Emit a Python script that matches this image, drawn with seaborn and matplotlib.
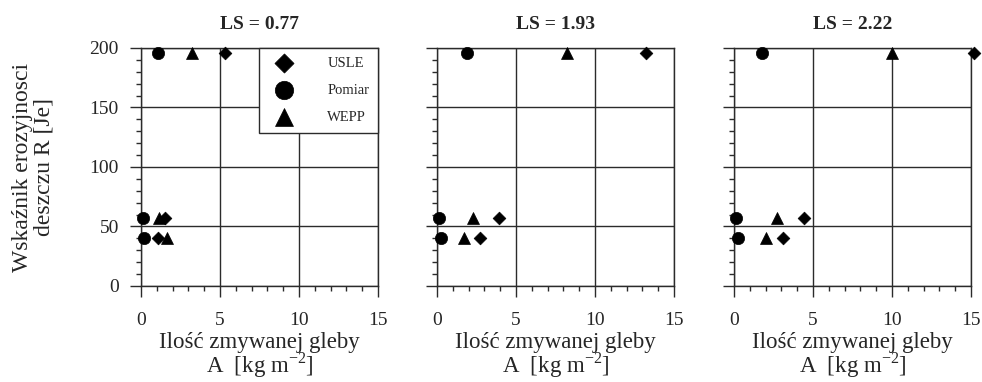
import matplotlib
matplotlib.use("Agg")
import matplotlib.pyplot as plt
from matplotlib.ticker import MultipleLocator
import pandas as pd
import seaborn as sns

# Slope-length factor of each panel
ls_values = [0.77, 1.93, 2.22]

# Rainfall erosivity index R [Je] of the three events
rain_R = [196, 57, 40]

# Soil loss A [kg m-2] per panel, one value per event
usle_A = [[5.3, 1.5, 1.05], [13.2, 3.95, 2.75], [15.2, 4.45, 3.1]]
pomiar_A = [[1.1, 0.1, 0.2], [1.9, 0.15, 0.25], [1.8, 0.15, 0.25]]
wepp_A = [[3.2, 1.15, 1.65], [8.25, 2.25, 1.7], [10.0, 2.7, 2.05]]

methods = ["USLE", "Pomiar", "WEPP"]
method_values = {"USLE": usle_A, "Pomiar": pomiar_A, "WEPP": wepp_A}
method_marker = {"USLE": "D", "Pomiar": "o", "WEPP": "^"}
method_size = {"USLE": 42, "Pomiar": 78, "WEPP": 74}

rows = []
for p, ls in enumerate(ls_values):
    for m in methods:
        for a, r in zip(method_values[m][p], rain_R):
            rows.append({"panel": p, "LS": ls, "method": m, "A": a, "R": r})
df = pd.DataFrame(rows)

sns.set_style("white")
plt.rcParams["font.family"] = ["Liberation Serif", "DejaVu Serif"]
plt.rcParams["mathtext.fontset"] = "custom"
plt.rcParams["mathtext.rm"] = "Liberation Serif"

W, H = 982, 382
fig = plt.figure(figsize=(W / 100, H / 100), dpi=100)

lefts = [141, 437, 734]
ax_w, ax_top, ax_bot = 237, 48, 286
line_col = "#2b2b2b"

axes = []
for p, ls in enumerate(ls_values):
    ax = fig.add_axes([lefts[p] / W, (H - ax_bot) / H, ax_w / W, (ax_bot - ax_top) / H])
    axes.append(ax)
    sub = df[df["panel"] == p]
    for m in methods:
        d = sub[sub["method"] == m]
        sns.scatterplot(data=d, x="A", y="R", marker=method_marker[m],
                        s=method_size[m], color="black", edgecolor="black",
                        linewidth=0.5, label=m, ax=ax, clip_on=False, zorder=3)
    ax.set_xlim(0, 15)
    ax.set_ylim(0, 200)
    ax.xaxis.set_major_locator(MultipleLocator(5))
    ax.xaxis.set_minor_locator(MultipleLocator(1))
    ax.yaxis.set_major_locator(MultipleLocator(50))
    ax.yaxis.set_minor_locator(MultipleLocator(10))
    ax.set_axisbelow(True)
    ax.grid(True, which="major", color=line_col, linewidth=1.0)
    for s in ax.spines.values():
        s.set_color(line_col)
        s.set_linewidth(1.0)
    ax.tick_params(which="major", direction="out", length=8, width=1.0,
                   color=line_col, labelsize=14)
    ax.tick_params(which="minor", direction="out", length=3.8, width=1.0,
                   color=line_col)
    ax.tick_params(axis="x", which="major", pad=11)
    ax.tick_params(axis="y", which="major", pad=8)
    ax.tick_params(left=True, bottom=True, which="both")
    if p > 0:
        ax.tick_params(axis="y", labelleft=False)
    ax.set_title(f"LS = {ls:.2f}", fontsize=14, fontweight="bold", pad=14)
    ax.set_xlabel("Ilość zmywanej gleby\nA  [kg m$^{-2}$]", fontsize=16.5,
                  linespacing=0.88, labelpad=2)
    ax.set_ylabel("")
    if p == 0:
        ax.legend(loc="upper right", bbox_to_anchor=(1.0, 1.0), borderaxespad=0,
                  frameon=True, fancybox=False, edgecolor=line_col, fontsize=10.5,
                  markerscale=1.5, handletextpad=1.9, labelspacing=0.95,
                  borderpad=0.6, handlelength=2.2, framealpha=1)
        ax.get_legend().get_frame().set_linewidth(1.0)
    else:
        leg = ax.get_legend()
        if leg is not None:
            leg.remove()

axes[0].set_ylabel("Wskaźnik erozyjnosci\ndeszczu R [Je]", fontsize=17, linespacing=1.0)
axes[0].yaxis.set_label_coords(-0.365, 0.5)

fig.savefig("out.png", dpi=100, facecolor="white")
